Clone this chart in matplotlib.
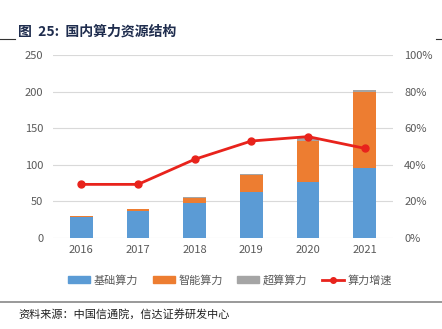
import numpy as np
import matplotlib
matplotlib.use("Agg")
import matplotlib.pyplot as plt
from matplotlib.lines import Line2D
from matplotlib.patches import Patch

plt.rcParams['font.family'] = ['Noto Sans CJK SC', 'DejaVu Sans']

years = ['2016', '2017', '2018', '2019', '2020', '2021']
base = [29, 37, 48, 63, 77, 95]
smart = [1, 2, 7, 23, 56, 104]
super_c = [0.5, 0.5, 1, 1.5, 3, 3]
growth = [0.293, 0.293, 0.43, 0.53, 0.554, 0.49]

c_blue = '#5B9BD5'
c_orange = '#ED7D31'
c_gray = '#A5A5A5'
c_red = '#E8231C'
c_text = '#595959'

fig = plt.figure(figsize=(4.42, 3.29), dpi=100)
ax = fig.add_axes([53 / 442, 1 - 238 / 329, 340 / 442, 183 / 329])

x = np.arange(len(years))
w = 0.4
b1 = np.array(base)
b2 = b1 + np.array(smart)
ax.bar(x, base, w, color=c_blue, zorder=2)
ax.bar(x, smart, w, bottom=b1, color=c_orange, zorder=2)
ax.bar(x, super_c, w, bottom=b2, color=c_gray, zorder=2)

ax.set_xlim(-0.5, 5.5)
ax.set_ylim(0, 250)
ax.set_yticks(range(0, 251, 50))
ax.set_xticks(x)
ax.set_xticklabels(years)
ax.grid(axis='y', color='#D9D9D9', linewidth=0.8, zorder=0)
for s in ax.spines.values():
    s.set_visible(False)
ax.tick_params(length=0, labelsize=8, colors=c_text, pad=7)
ax.tick_params(axis='x', pad=5)

ax2 = ax.twinx()
ax2.plot(x, growth, color=c_red, linewidth=2, marker='o', markersize=5, zorder=3)
ax2.set_ylim(0, 1)
ax2.set_yticks(np.linspace(0, 1, 6))
ax2.set_yticklabels([f'{int(v * 100)}%' for v in np.linspace(0, 1, 6)])
for s in ax2.spines.values():
    s.set_visible(False)
ax2.tick_params(length=0, labelsize=8, colors=c_text, pad=8)

handles = [
    Patch(color=c_blue),
    Patch(color=c_orange),
    Patch(color=c_gray),
    Line2D([0], [0], color=c_red, linewidth=2, marker='o', markersize=4),
]
labels = ['基础算力', '智能算力', '超算算力', '算力增速']
fig.legend(handles, labels, loc='center', bbox_to_anchor=(230 / 442, 1 - 280 / 329),
           ncol=4, frameon=False, fontsize=8, handlelength=2.0, handleheight=0.5,
           handletextpad=0.3, columnspacing=1.3, labelcolor=c_text)

fig.text(18 / 442, 1 - 32 / 329, '图  25:  国内算力资源结构', fontsize=10,
         fontweight='bold', color='#1F2D4E', va='center')
fig.add_artist(Line2D([0, 15 / 442], [1 - 39 / 329] * 2, color='#333333', linewidth=0.8))
fig.add_artist(Line2D([436 / 442, 1], [1 - 39 / 329] * 2, color='#333333', linewidth=0.8))
fig.add_artist(Line2D([0, 1], [1 - 302 / 329] * 2, color='#888888', linewidth=1.2))
fig.text(18 / 442, 1 - 314 / 329, '资料来源：中国信通院，信达证券研发中心', fontsize=8,
         style='italic', color='#222222', va='center')

fig.savefig('out.png', dpi=100)
